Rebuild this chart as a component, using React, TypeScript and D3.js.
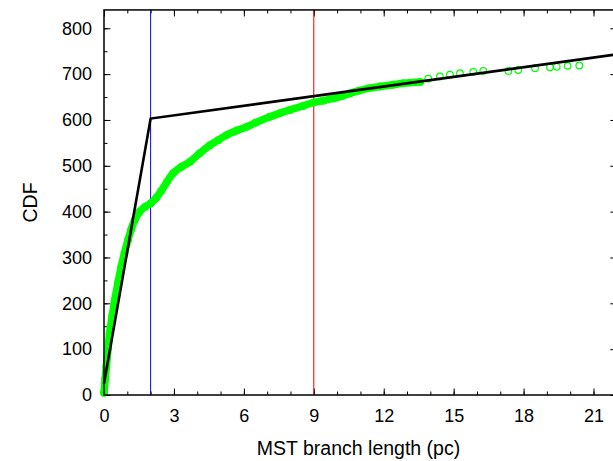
import { useEffect, useRef } from 'react';
import * as d3 from 'd3';

// cumulative count of MST branches vs branch length
const branchLength = [
  0.0, 0.05, 0.1, 0.17, 0.24, 0.35, 0.46, 0.6, 0.74, 0.88, 1.03, 1.17, 1.32, 1.53, 1.75, 2.0,
  2.24, 2.45, 2.7, 2.97, 3.3, 3.69, 4.1, 4.55, 4.9, 5.26, 5.7, 6.12, 6.5, 7.12, 7.55, 7.98,
  8.5, 8.98, 9.4, 9.84, 10.2, 10.55, 10.95, 11.34, 11.84, 12.41, 12.84, 13.56, 13.91, 14.41,
  14.84, 15.27, 15.84, 16.27, 17.35, 17.77, 18.49, 19.13, 19.42, 19.89, 20.39,
];
const cdfCount = [
  5, 35, 62, 100, 135, 172, 207, 245, 280, 310, 338, 362, 382, 400, 410, 418,
  430, 445, 465, 484, 497, 509, 527, 545, 556, 567, 577, 585, 594, 607, 615, 622,
  630, 638, 642, 647, 652, 658, 664, 669, 673, 677, 680, 683, 690, 695,
  699, 702, 705, 707, 707, 709, 713, 715, 716, 718, 719,
];
// broken-line model
const modelX = [0, 2, 22];
const modelY = [25, 603, 743];
// vertical markers
const blueMarker = 2;
const redMarker = 9;

const xTicksMajor = [0, 3, 6, 9, 12, 15, 18, 21];
const yTicksMajor = [0, 100, 200, 300, 400, 500, 600, 700, 800];

const FONT = '"Liberation Sans", Arial, sans-serif';

const App = () => {
  const svgRef = useRef<SVGSVGElement>(null);

  useEffect(() => {
    const svg = d3.select(svgRef.current);
    svg.selectAll('*').remove();

    const left = 104;
    const bottom = 395;
    const x = d3.scaleLinear().domain([0, 22]).range([left, left + 22 * 23.31]);
    const y = d3.scaleLinear().domain([0, 840]).range([bottom, bottom - 840 * 0.4584]);
    const [x0, x1] = x.range();
    const [y0, y1] = y.range();

    const minorX = d3.range(0, 23, 1);
    const minorY = d3.range(0, 850, 50);

    const styleAxis = (g: any) => {
      g.select('.domain').remove();
      g.selectAll('line').attr('stroke', '#000').attr('stroke-width', 1);
      g.selectAll('text')
        .attr('fill', '#000')
        .style('font-family', FONT)
        .style('font-size', '18px');
    };

    // minor ticks
    svg.append('g').attr('transform', `translate(0,${y0})`)
      .call(d3.axisBottom(x).tickValues(minorX).tickSize(-3.5).tickFormat(() => ''))
      .call(styleAxis);
    svg.append('g').attr('transform', `translate(0,${y1})`)
      .call(d3.axisTop(x).tickValues(minorX).tickSize(-3.5).tickFormat(() => ''))
      .call(styleAxis);
    svg.append('g').attr('transform', `translate(${x0},0)`)
      .call(d3.axisLeft(y).tickValues(minorY).tickSize(-3.5).tickFormat(() => ''))
      .call(styleAxis);
    svg.append('g').attr('transform', `translate(${x1},0)`)
      .call(d3.axisRight(y).tickValues(minorY).tickSize(-3.5).tickFormat(() => ''))
      .call(styleAxis);

    // major ticks + labels
    svg.append('g').attr('transform', `translate(0,${y0})`)
      .call(d3.axisBottom(x).tickValues(xTicksMajor).tickSize(-6.5).tickPadding(14).tickFormat(d3.format('d')))
      .call(styleAxis);
    svg.append('g').attr('transform', `translate(0,${y1})`)
      .call(d3.axisTop(x).tickValues(xTicksMajor).tickSize(-6.5).tickFormat(() => ''))
      .call(styleAxis);
    svg.append('g').attr('transform', `translate(${x0},0)`)
      .call(d3.axisLeft(y).tickValues(yTicksMajor).tickSize(-6.5).tickPadding(12).tickFormat(d3.format('d')))
      .call(styleAxis);
    svg.append('g').attr('transform', `translate(${x1},0)`)
      .call(d3.axisRight(y).tickValues(yTicksMajor).tickSize(-6.5).tickFormat(() => ''))
      .call(styleAxis);

    // vertical markers
    svg.append('line')
      .attr('x1', x(blueMarker)).attr('x2', x(blueMarker))
      .attr('y1', y0).attr('y2', y1)
      .attr('stroke', '#0000ff').attr('stroke-width', 1);
    svg.append('line')
      .attr('x1', x(redMarker)).attr('x2', x(redMarker))
      .attr('y1', y0).attr('y2', y1)
      .attr('stroke', '#ee0000').attr('stroke-width', 1);

    // data: dense part as a thick band, every point as an open circle
    const pts = branchLength.map((d, i) => [d, cdfCount[i]] as [number, number]);
    const line = d3.line<[number, number]>().x((d) => x(d[0])).y((d) => y(d[1]));
    const smooth = d3.line<[number, number]>()
      .x((d) => x(d[0]))
      .y((d) => y(d[1]))
      .curve(d3.curveMonotoneX);
    svg.append('path')
      .datum(pts.filter((d) => d[0] <= 13.6))
      .attr('d', smooth)
      .attr('fill', 'none')
      .attr('stroke', '#00ff00')
      .attr('stroke-width', 7.5)
      .attr('stroke-linecap', 'round')
      .attr('stroke-linejoin', 'round');
    svg.append('g')
      .selectAll('circle')
      .data(pts)
      .enter()
      .append('circle')
      .attr('cx', (d) => x(d[0]))
      .attr('cy', (d) => y(d[1]))
      .attr('r', 3.3)
      .attr('fill', 'none')
      .attr('stroke', '#00ff00')
      .attr('stroke-width', 1.2);

    // model line
    svg.append('path')
      .datum(modelX.map((d, i) => [d, modelY[i]] as [number, number]))
      .attr('d', line)
      .attr('fill', 'none')
      .attr('stroke', '#000')
      .attr('stroke-width', 2.6)
      .attr('stroke-linejoin', 'miter');

    // frame
    svg.append('rect')
      .attr('x', x0).attr('y', y1)
      .attr('width', x1 - x0).attr('height', y0 - y1)
      .attr('fill', 'none')
      .attr('stroke', '#000')
      .attr('stroke-width', 1.5);

    // axis titles
    svg.append('text')
      .attr('x', (x0 + 613) / 2)
      .attr('y', 455)
      .attr('text-anchor', 'middle')
      .style('font-family', FONT)
      .style('font-size', '19.5px')
      .text('MST branch length (pc)');
    svg.append('text')
      .attr('transform', `translate(37,${(y0 + y1) / 2}) rotate(-90)`)
      .attr('text-anchor', 'middle')
      .style('font-family', FONT)
      .style('font-size', '19.5px')
      .text('CDF');
  }, []);

  return (
    <svg
      ref={svgRef}
      width={613}
      height={461}
      style={{ position: 'absolute', left: 0, top: 0, background: '#fff' }}
    />
  );
};

export default App;
